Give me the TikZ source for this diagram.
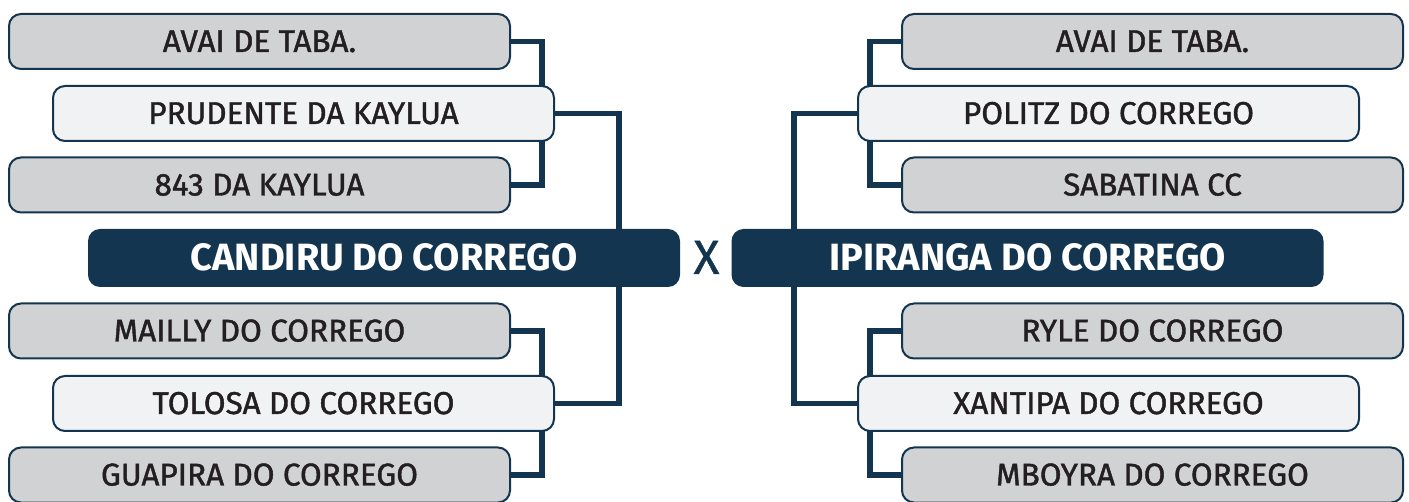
\documentclass[tikz,border=0pt]{standalone}
\usepackage{fontspec}
\setmainfont{Fira Sans}
\newfontfamily\teamfont{Fira Sans}[FakeBold=1.3]
\newfontfamily\vsfont{Fira Sans}[FakeBold=0.8]
\usetikzlibrary{backgrounds}
\definecolor{navy}{HTML}{14354F}
\definecolor{graybox}{HTML}{D1D2D4}
\definecolor{lightbox}{HTML}{F0F2F4}
\definecolor{ink}{HTML}{231F20}
\begin{document}
\begin{tikzpicture}[x=1pt,y=-1pt,
  team/.style={draw=navy, line width=2pt, rounded corners=12pt, minimum width=501pt, minimum height=55pt,
    inner sep=0pt, text height=21pt, text depth=0pt, text=ink, font=\teamfont\fontsize{31.5}{32}\selectfont},
  grayteam/.style={team, fill=graybox},
  lightteam/.style={team, fill=lightbox},
  finalist/.style={fill=navy, rounded corners=12pt, minimum width=592pt, minimum height=58pt, inner sep=0pt,
    text=white, text height=26pt, text depth=0pt, font=\bfseries\fontsize{38}{38}\selectfont},
  versus/.style={inner sep=0pt, text=navy, text height=32pt, text depth=0pt, font=\vsfont\fontsize{48}{48}\selectfont},
  link/.style={draw=navy, line width=5.5pt}]
\useasboundingbox (0,0) rectangle (1409,502);
% left side
\node[grayteam]  (la1) at (259.5,41.5) {AVAI DE TABA.};
\node[lightteam] (lp)  at (303.5,113.5) {PRUDENTE DA KAYLUA};
\node[grayteam]  (la3) at (259.5,185) {843 DA KAYLUA};
\node[finalist]  (lf)  at (384,258) {CANDIRU DO CORREGO};
\node[grayteam]  (lb1) at (259.5,331) {MAILLY DO CORREGO};
\node[lightteam] (lt)  at (303.5,403.5) {TOLOSA DO CORREGO};
\node[grayteam]  (lb3) at (259.5,475) {GUAPIRA DO CORREGO};
% versus
\node[versus] (vs) at (706.5,258) {X};
% right side
\node[grayteam]  (ra1) at (1152.5,41.5) {AVAI DE TABA.};
\node[lightteam] (rp)  at (1108.5,113.5) {POLITZ DO CORREGO};
\node[grayteam]  (ra3) at (1152.5,185) {SABATINA CC};
\node[finalist]  (rf)  at (1027.5,258) {IPIRANGA DO CORREGO};
\node[grayteam]  (rb1) at (1152.5,331) {RYLE DO CORREGO};
\node[lightteam] (rt)  at (1108.5,403.5) {XANTIPA DO CORREGO};
\node[grayteam]  (rb3) at (1152.5,475) {MBOYRA DO CORREGO};
\begin{pgfonlayer}{background}
  \draw[link] (la1.east) -- ++(31,0) |- (la3.east);
  \draw[link] (lb1.east) -- ++(31,0) |- (lb3.east);
  \draw[link] (lp.east) -- ++(64,0) |- (lt.east);
  \draw[link] (ra1.west) -- ++(-31,0) |- (ra3.west);
  \draw[link] (rb1.west) -- ++(-31,0) |- (rb3.west);
  \draw[link] (rp.west) -- ++(-63,0) |- (rt.west);
\end{pgfonlayer}
\end{tikzpicture}
\end{document}
